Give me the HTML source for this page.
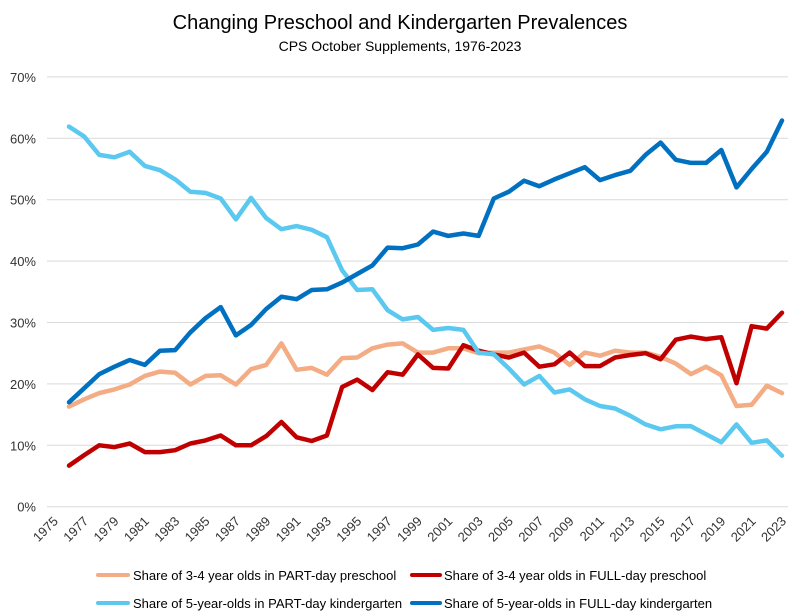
<!DOCTYPE html>
<html><head><meta charset="utf-8"><style>
body{margin:0;background:#fff}
svg{display:block;font-family:"Liberation Sans",sans-serif}
</style></head><body>
<svg id="chart" width="800" height="612">
<text x="400" y="29" text-anchor="middle" font-size="20" fill="#000">Changing Preschool and Kindergarten Prevalences</text>
<text x="400" y="51" text-anchor="middle" font-size="14" fill="#000">CPS October Supplements, 1976-2023</text>
<g id="grid"></g><g id="xlab"></g><g id="lines"></g>
<g>
<g><line x1="98" y1="575" x2="128" y2="575" stroke="#F4AC84" stroke-width="4" stroke-linecap="round"/><text x="133" y="580" font-size="13">Share of 3-4 year olds in PART-day preschool</text></g>
<g><line x1="412" y1="575" x2="440" y2="575" stroke="#C00000" stroke-width="4" stroke-linecap="round"/><text x="444" y="580" font-size="13">Share of 3-4 year olds in FULL-day preschool</text></g>
<g><line x1="98" y1="603" x2="128" y2="603" stroke="#5BC8F0" stroke-width="4" stroke-linecap="round"/><text x="133" y="608" font-size="13">Share of 5-year-olds in PART-day kindergarten</text></g>
<g><line x1="412" y1="603" x2="440" y2="603" stroke="#0070C0" stroke-width="4" stroke-linecap="round"/><text x="444" y="608" font-size="13">Share of 5-year-olds in FULL-day kindergarten</text></g>
</g>
</svg>
<script>
const years=[];for(let y=1976;y<=2023;y++)years.push(y);
const partPreschool=[16.3,17.5,18.5,19.1,19.9,21.3,22.0,21.8,19.9,21.3,21.4,19.9,22.4,23.1,26.6,22.3,22.6,21.5,24.2,24.3,25.8,26.4,26.6,25.1,25.1,25.8,25.8,25.0,25.1,25.1,25.6,26.1,25.1,23.1,25.1,24.6,25.4,25.1,25.1,24.4,23.3,21.6,22.8,21.4,16.4,16.6,19.7,18.5];
const fullPreschool=[6.7,8.4,10.0,9.7,10.3,8.9,8.9,9.2,10.3,10.8,11.6,10.0,10.0,11.5,13.8,11.3,10.7,11.6,19.5,20.7,19.0,21.9,21.5,24.8,22.6,22.5,26.3,25.4,24.8,24.3,25.1,22.8,23.2,25.1,22.9,22.9,24.3,24.7,25.0,24.0,27.2,27.7,27.3,27.6,20.1,29.4,29.0,31.6];
const partKinder=[61.9,60.3,57.3,56.9,57.8,55.5,54.8,53.3,51.3,51.1,50.2,46.8,50.3,47.0,45.2,45.7,45.1,43.9,38.5,35.3,35.4,32.0,30.5,30.9,28.8,29.1,28.8,25.1,24.8,22.5,19.9,21.3,18.6,19.1,17.5,16.4,16.0,14.8,13.4,12.6,13.1,13.1,11.8,10.5,13.4,10.4,10.8,8.3];
const fullKinder=[17.0,19.3,21.6,22.8,23.9,23.1,25.4,25.5,28.4,30.7,32.5,27.9,29.6,32.2,34.2,33.8,35.3,35.4,36.5,37.9,39.3,42.2,42.1,42.7,44.8,44.1,44.5,44.1,50.2,51.3,53.1,52.2,53.3,54.3,55.3,53.2,54.0,54.7,57.3,59.3,56.5,56.0,56.0,58.1,52.0,55.0,57.8,62.9];
const yTicks=[0,10,20,30,40,50,60,70];
const xTickYears=[];for(let y=1975;y<=2023;y+=2)xTickYears.push(y);
const NS="http://www.w3.org/2000/svg";
const xs=yr=>69+(yr-1976)*15.17;
const ys=v=>506.7-v*6.14;
const grid=document.getElementById('grid');
yTicks.forEach(t=>{
 const l=document.createElementNS(NS,'line');
 l.setAttribute('x1',47);l.setAttribute('x2',788);l.setAttribute('y1',ys(t));l.setAttribute('y2',ys(t));
 l.setAttribute('stroke','#d9d9d9');l.setAttribute('stroke-width','1');
 
 
 grid.appendChild(l);
 const tx=document.createElementNS(NS,'text');
 tx.setAttribute('x',36);tx.setAttribute('y',ys(t)+5);tx.setAttribute('text-anchor','end');tx.setAttribute('font-size','13');tx.setAttribute('fill','#333');
 tx.textContent=t+'%';
 
 
 grid.appendChild(tx);
});
const xl=document.getElementById('xlab');
xTickYears.forEach(yr=>{
 const tx=document.createElementNS(NS,'text');
 const x=xs(yr)+5,y=522;
 tx.setAttribute('x',x);tx.setAttribute('y',y);tx.setAttribute('text-anchor','end');tx.setAttribute('font-size','13');tx.setAttribute('fill','#333');
 tx.setAttribute('transform','rotate(-45 '+x+' '+y+')');
 tx.textContent=yr;
 
 
 xl.appendChild(tx);
});
const series=[[partPreschool,'#F4AC84','line-part-preschool'],[fullPreschool,'#C00000','line-full-preschool'],[partKinder,'#5BC8F0','line-part-kindergarten'],[fullKinder,'#0070C0','line-full-kindergarten']];
const lg=document.getElementById('lines');
series.forEach(s=>{
 const p=document.createElementNS(NS,'polyline');
 p.setAttribute('points',s[0].map((v,i)=>xs(years[i]).toFixed(1)+','+ys(v).toFixed(1)).join(' '));
 p.setAttribute('fill','none');p.setAttribute('stroke',s[1]);p.setAttribute('stroke-width','4.5');p.setAttribute('stroke-linejoin','round');p.setAttribute('stroke-linecap','round');
 
 
 lg.appendChild(p);
});
</script>
</body></html>
